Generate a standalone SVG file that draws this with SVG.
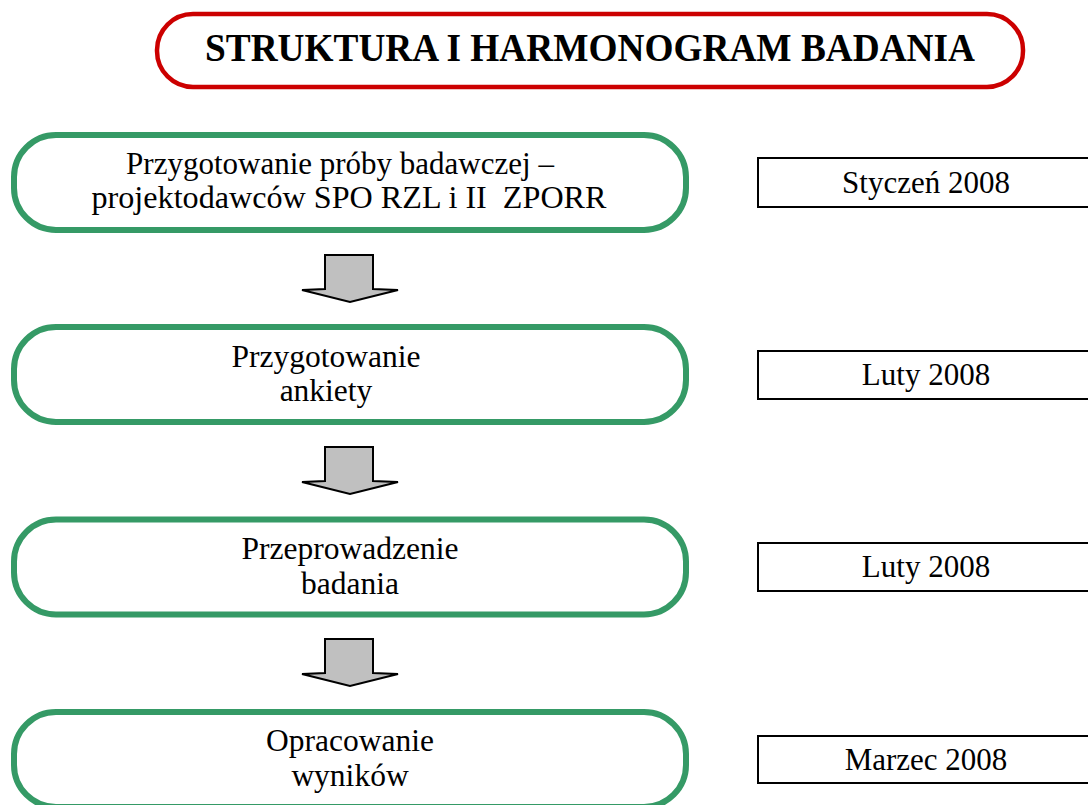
<svg xmlns="http://www.w3.org/2000/svg" width="1088" height="805" viewBox="0 0 1088 805">
<style>
.t{font-family:"Liberation Serif","Times New Roman",serif;fill:#000;text-anchor:middle}
.step{fill:#fff;stroke:#359a66;stroke-width:6}
.date{fill:#fff;stroke:#000;stroke-width:2}
.arr{fill:#c0c0c0;stroke:#000;stroke-width:2;stroke-linejoin:miter}
</style>
<rect width="1088" height="805" fill="#fff"/>
<g id="title">
<rect x="157" y="14" width="866" height="73" rx="36" fill="#fff" stroke="#cc0000" stroke-width="4.5"/>
<text class="t" x="590" y="61" font-size="40" font-weight="bold" textLength="770" lengthAdjust="spacingAndGlyphs">STRUKTURA I HARMONOGRAM BADANIA</text>
</g>
<g id="step1">
<rect class="step" x="14" y="135" width="672" height="95" rx="42"/>
<text class="t" x="340" y="174" font-size="31">Przygotowanie próby badawczej –</text>
<text class="t" x="349" y="208" font-size="31" textLength="515" lengthAdjust="spacingAndGlyphs" xml:space="preserve">projektodawców SPO RZL i II  ZPORR</text>
</g>
<g id="step2">
<rect class="step" x="14" y="327" width="672" height="95" rx="42"/>
<text class="t" x="326" y="367" font-size="31.5">Przygotowanie</text>
<text class="t" x="326" y="401" font-size="31.5">ankiety</text>
</g>
<g id="step3">
<rect class="step" x="14" y="519.5" width="672" height="95" rx="42"/>
<text class="t" x="350" y="559" font-size="31.5">Przeprowadzenie</text>
<text class="t" x="350" y="594" font-size="31.5">badania</text>
</g>
<g id="step4">
<rect class="step" x="14" y="712" width="672" height="95" rx="42"/>
<text class="t" x="350" y="751" font-size="31.5">Opracowanie</text>
<text class="t" x="350" y="786" font-size="31.5">wyników</text>
</g>
<g id="date1">
<rect class="date" x="758" y="158" width="340" height="49"/>
<text class="t" x="926" y="193" font-size="31">Styczeń 2008</text>
</g>
<g id="date2">
<rect class="date" x="758" y="351" width="340" height="48"/>
<text class="t" x="926" y="385" font-size="31">Luty 2008</text>
</g>
<g id="date3">
<rect class="date" x="758" y="543" width="340" height="48"/>
<text class="t" x="926" y="577" font-size="31">Luty 2008</text>
</g>
<g id="date4">
<rect class="date" x="758" y="736" width="340" height="47"/>
<text class="t" x="926" y="770" font-size="31">Marzec 2008</text>
</g>
<g id="connectors">
<polygon class="arr" points="325,255 373,255 373,289 398,290 350,302 302,290 325,289"/>
<polygon class="arr" points="325,447 373,447 373,481 398,482 350,494 302,482 325,481"/>
<polygon class="arr" points="325,639 373,639 373,673 398,674 350,686 302,674 325,673"/>
</g>
</svg>
